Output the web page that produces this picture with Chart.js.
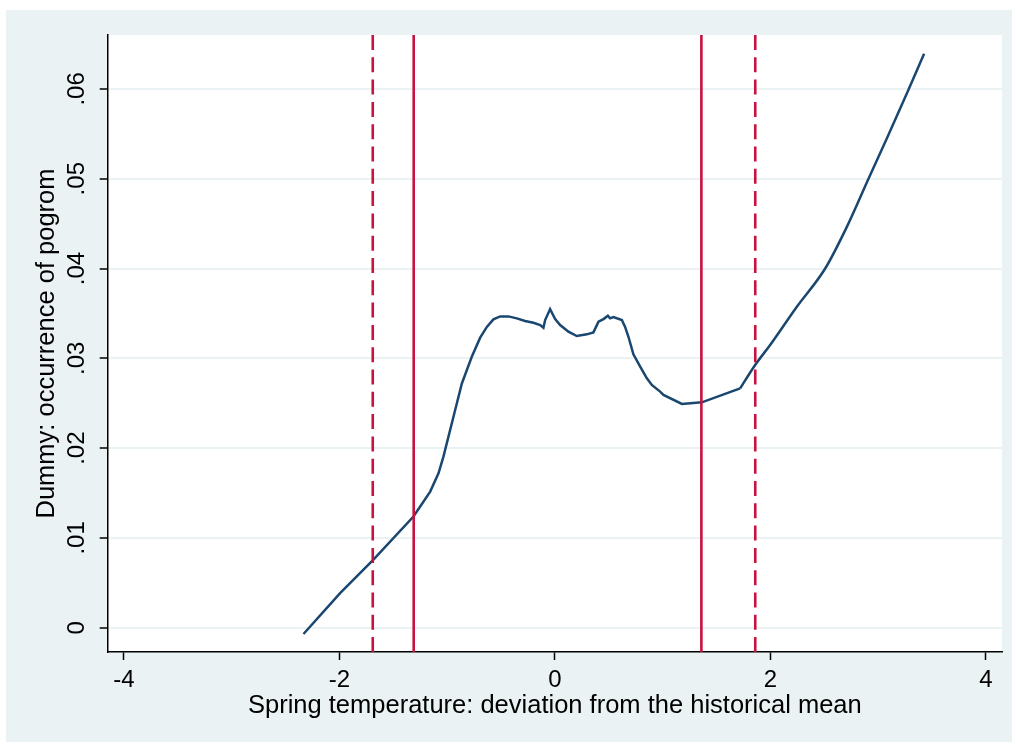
<!DOCTYPE html>
<html>
<head>
<meta charset="utf-8">
<script src="https://cdn.jsdelivr.net/npm/chart.js@4/dist/chart.umd.min.js"></script>
<style>
  html, body { margin: 0; padding: 0; background: #fff; }
  #frame { position: absolute; left: 6px; top: 10px; width: 1006px; height: 732px; background: #EAF2F3; }
</style>
</head>
<body>
<div id="frame"><canvas id="chart"></canvas></div>
<script>
// spring temperature deviation (x) and fitted pogrom probability (y)
const tempX = [-2.333, -1.993, -1.686, -1.312, -1.157, -1.080, -1.034, -0.941, -0.863, -0.770,
    -0.693, -0.631, -0.570, -0.508, -0.431, -0.353, -0.276, -0.199, -0.136, -0.106,
    -0.090, -0.044, 0.003, 0.049, 0.126, 0.204, 0.297, 0.358, 0.405, 0.451,
    0.492, 0.513, 0.544, 0.622, 0.652, 0.683, 0.729, 0.792, 0.854, 0.900,
    0.977, 1.008, 1.179, 1.364, 1.720, 1.859, 1.998, 2.246, 2.509, 2.710,
    2.911, 3.081, 3.282, 3.427];
const pogromY = [-0.0007, 0.00386, 0.00756, 0.01238, 0.01516, 0.0172, 0.01905, 0.0235, 0.0272, 0.0302,
    0.0323, 0.0335, 0.03434, 0.03467, 0.03467, 0.03445, 0.03415, 0.03396, 0.0337, 0.0334,
    0.03426, 0.03548, 0.03437, 0.0337, 0.03296, 0.03248, 0.03267, 0.03289, 0.03407, 0.03437,
    0.03474, 0.03445, 0.03459, 0.03426, 0.0335, 0.0324, 0.03045, 0.02907, 0.02778, 0.02703,
    0.02629, 0.02592, 0.02492, 0.0251, 0.02666, 0.02926, 0.03148, 0.03574, 0.0400, 0.04464,
    0.0500, 0.05447, 0.0599, 0.0639];

// the fitted curve turns sharply here; beyond it the line is smooth
const kinkX = 1.72;

const solidCutoffs = [-1.31, 1.36];
const dashedCutoffs = [-1.69, 1.86];

const xTicks = [-4, -2, 0, 2, 4];
const yTicks = [0, 0.01, 0.02, 0.03, 0.04, 0.05, 0.06];
const xRange = [-4.15, 4.15];
const yRange = [-0.0027, 0.066];

const navy = '#1A476F';
const crimson = '#C8123F';
const fontFamily = '"Liberation Sans", Arial, sans-serif';

function cutoffLine(c, dashed) {
    return {
        data: [{x: c, y: yRange[1]}, {x: c, y: yRange[0]}],
        borderColor: crimson,
        borderWidth: 2.6,
        borderDash: dashed ? [15, 7.3] : [],
        pointRadius: 0,
        showLine: true
    };
}

const plotBg = {
    id: 'plotBg',
    beforeDraw(chart) {
        const {ctx, chartArea: a} = chart;
        ctx.save();
        ctx.fillStyle = '#fff';
        ctx.fillRect(a.left, a.top, a.right - a.left, a.bottom - a.top);
        ctx.restore();
    }
};

const points = tempX.map((x, i) => ({x: x, y: pogromY[i]}));
const curveStyle = {borderColor: navy, borderWidth: 2.5, pointRadius: 0, showLine: true};

const datasets = [
    ...dashedCutoffs.map(c => cutoffLine(c, true)),
    ...solidCutoffs.map(c => cutoffLine(c, false)),
    {...curveStyle, data: points.filter(p => p.x <= kinkX), tension: 0},
    {...curveStyle, data: points.filter(p => p.x >= kinkX), cubicInterpolationMode: 'monotone'}
];

new Chart(document.getElementById('chart'), {
    type: 'scatter',
    data: {datasets: datasets},
    plugins: [plotBg],
    options: {
        responsive: true,
        maintainAspectRatio: false,
        animation: false,
        layout: {padding: {left: 0, top: 25, right: 10, bottom: 0}},
        plugins: {legend: {display: false}, tooltip: {enabled: false}},
        scales: {
            x: {
                type: 'linear',
                min: xRange[0],
                max: xRange[1],
                afterBuildTicks: s => { s.ticks = xTicks.map(v => ({value: v})); },
                afterFit: s => { s.height = 90; },
                border: {display: true, color: '#000', width: 1.5},
                grid: {drawOnChartArea: false, tickLength: 8, tickColor: '#000', tickWidth: 1.5},
                ticks: {
                    color: '#000', padding: 6, maxRotation: 0,
                    font: {family: fontFamily, size: 24}
                },
                title: {
                    display: true,
                    text: 'Spring temperature: deviation from the historical mean',
                    color: '#000',
                    font: {family: fontFamily, size: 25.5},
                    padding: {top: 0, bottom: 21}
                }
            },
            y: {
                type: 'linear',
                min: yRange[0],
                max: yRange[1],
                afterBuildTicks: s => { s.ticks = yTicks.map(v => ({value: v})); },
                afterFit: s => { s.width = 101.7; },
                border: {display: true, color: '#000', width: 1.5},
                grid: {color: '#EAF2F3', lineWidth: 2, tickLength: 8, tickColor: '#000', tickWidth: 1.5},
                ticks: {
                    color: '#000', padding: 6, minRotation: 90, maxRotation: 90,
                    crossAlign: 'center',
                    font: {family: fontFamily, size: 24},
                    callback: v => v === 0 ? '0' : v.toFixed(2).replace(/^0/, '')
                },
                title: {
                    display: true,
                    text: 'Dummy: occurrence of pogrom',
                    color: '#000',
                    font: {family: fontFamily, size: 25.5},
                    padding: {top: 26, bottom: 0}
                }
            }
        }
    }
});
</script>
</body>
</html>
